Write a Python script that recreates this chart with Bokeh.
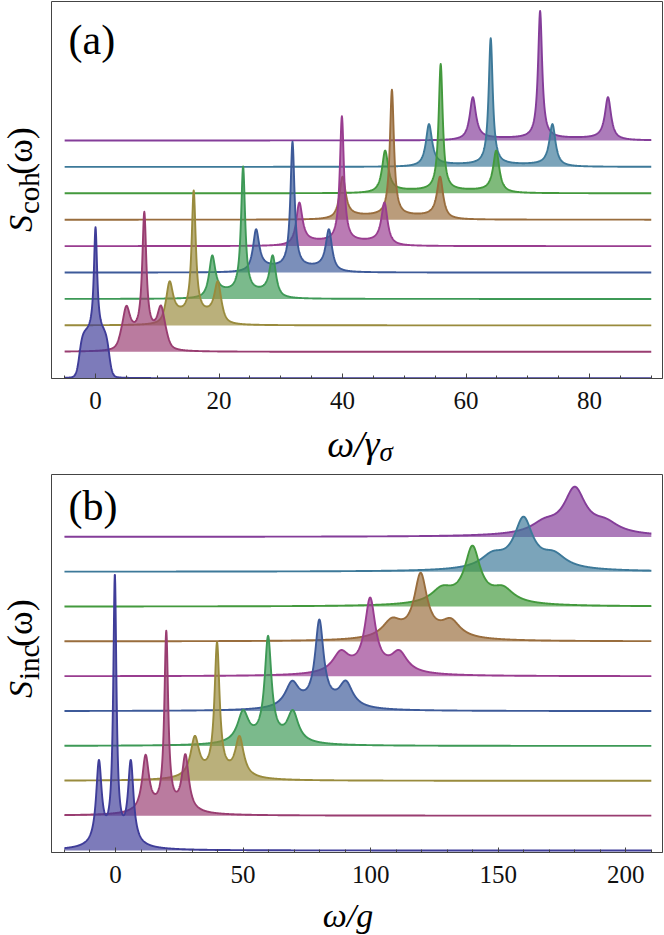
import numpy as np
from bokeh.plotting import figure
from bokeh.models import Label, FixedTicker, Range1d, ColumnDataSource
from bokeh.layouts import column, row
from bokeh.embed import file_html
from bokeh.resources import INLINE

# ---------------- data ----------------
colors = ["#3F3D99", "#993D71", "#998B3D", "#3D9956", "#3D5A99",
          "#993D90", "#996D3D", "#43993D", "#3D7999", "#843D99"]

# panel (a): coherent spectrum, curves offset by 1 unit each
a_center = [0.0, 7.9, 15.9, 23.9, 31.9, 39.9, 48.0, 55.9, 64.0, 72.0]
a_side_left = [None, 5.0, 12.0, 18.9, 26.0, 33.0, 40.0, 46.9, 54.0, 61.1]
a_side_right = [None, 10.6, 19.8, 28.7, 37.8, 46.8, 55.8, 64.9, 74.0, 83.0]
a_center_height = [5.72, 5.30, 5.11, 5.02, 4.95, 4.92, 4.92, 4.90, 4.87, 4.90]
a_side_height = [0.0, 1.74, 1.67, 1.65, 1.64, 1.65, 1.63, 1.62, 1.62, 1.64]
a_dip_height = [1.97, 1.15, 0.72, 0.45, 0.34, 0.28, 0.23, 0.17, 0.14, 0.13]
a_center_hwhm = [0.32, 0.40, 0.40, 0.40, 0.40, 0.40, 0.40, 0.40, 0.40, 0.40]
a_side_hwhm = [0.6, 0.7, 0.65, 0.6, 0.6, 0.6, 0.6, 0.6, 0.6, 0.6]
a_ped_left = [-2.6, 4.0, 11.3, 18.4, 25.6, 32.7, 39.7, 46.6, 53.8, 60.9]
a_ped_right = [2.2, 11.6, 20.5, 29.2, 38.2, 47.1, 56.1, 65.2, 74.2, 83.2]
a_ped_edge = [0.25, 0.3, 0.3, 0.3, 0.3, 0.3, 0.3, 0.3, 0.3, 0.3]
a_xmin, a_xmax = -5.0, 90.0
a_ticks = [0, 20, 40, 60, 80]
a_minor = [-5, 5, 10, 15, 25, 30, 35, 45, 50, 55, 65, 70, 75, 85, 90]

# panel (b): incoherent spectrum
b_center = [-0.25, 19.9, 39.8, 59.8, 79.9, 99.8, 119.6, 139.9, 159.9, 180.0]
b_side_left = [-6.5, 11.8, 31.1, 50.0, 69.2, 88.3, 108.3, 127.9, 147.7, 168.0]
b_side_right = [6.0, 27.4, 48.6, 69.5, 90.3, 111.2, 131.4, 151.9, 171.9, 192.1]
b_center_height = [7.94, 5.31, 3.98, 3.16, 2.63, 2.26, 1.97, 1.75, 1.58, 1.44]
b_side_height = [2.60, 1.75, 1.29, 1.03, 0.87, 0.75, 0.68, 0.60, 0.59, 0.54]
b_center_hwhm = [0.75, 0.9, 1.2, 1.6, 2.0, 2.5, 3.0, 3.6, 4.3, 5.0]
b_side_hwhm = [1.3, 1.6, 2.0, 2.6, 3.2, 3.8, 4.4, 5.0, 5.5, 6.0]
b_bg_height = [0.28, 0.18, 0.15, 0.15, 0.15, 0.15, 0.15, 0.15, 0.14, 0.13]
b_bg_hwhm = [7, 9, 10, 11, 12, 13, 14, 15, 16, 17]
b_xmin, b_xmax = -20.0, 210.0
b_ticks = [0, 50, 100, 150, 200]
b_minor = [-20, -10, 10, 20, 30, 40, 60, 70, 80, 90, 110, 120, 130, 140,
           160, 170, 180, 190, 210]


# ---------------- line shapes ----------------
def lor(x, c, g):
    return g * g / ((x - c) ** 2 + g * g)


def pedestal(x, a, b, w):
    return 1.0 / (1.0 + np.exp(-(x - a) / w)) / (1.0 + np.exp((x - b) / w))


def solve(funcs, xs, hs):
    M = np.array([[f(x) for f in funcs] for x in xs], dtype=float)
    amp = np.linalg.solve(M, np.array(hs, dtype=float))
    return np.clip(amp, 0.0, None)


def curve_a(n, x):
    c, gc = a_center[n], a_center_hwhm[n]
    pa_, pb_, pw = a_ped_left[n], a_ped_right[n], a_ped_edge[n]
    fc = lambda t: lor(t, c, gc)
    fp = lambda t: pedestal(t, pa_, pb_, pw)
    if a_side_left[n] is None:
        amp = solve([fc, fp], [c, -1.2], [a_center_height[n], a_dip_height[n]])
        return amp[0] * fc(x) + amp[1] * fp(x)
    sl, sr, gs = a_side_left[n], a_side_right[n], a_side_hwhm[n]
    fs = lambda t: lor(t, sl, gs) + lor(t, sr, gs)
    amp = solve([fc, fs, fp], [c, sl, 0.5 * (sl + c)],
                [a_center_height[n], a_side_height[n], a_dip_height[n]])
    return amp[0] * fc(x) + amp[1] * fs(x) + amp[2] * fp(x)


def curve_b(n, x):
    c, gc = b_center[n], b_center_hwhm[n]
    sl, sr, gs = b_side_left[n], b_side_right[n], b_side_hwhm[n]
    fb = lambda t: b_bg_height[n] * lor(t, c, b_bg_hwhm[n])
    fc = lambda t: lor(t, c, gc)
    fs = lambda t: lor(t, sl, gs) + lor(t, sr, gs)
    amp = solve([fc, fs], [c, sl],
                [b_center_height[n] - fb(c), b_side_height[n] - fb(sl)])
    return amp[0] * fc(x) + amp[1] * fs(x) + fb(x)


# ---------------- layout geometry (page pixels) ----------------
FONT = "Liberation Serif"
MID = 0.3375            # middle of the text box above the baseline, in em
LW = 50                 # width of the y-label strip
PW = 613                # panel figure width
FW = PW - 2             # frame width (1px border each side)
FRAME_L = LW + 1        # page x of frame left

PA_H, PA_TOP, PA_FH = 422, 1, 377       # panel (a): page y 0..422
XA_H = 51                               # x label (a): page y 422..473
PB_H, PB_TOP, PB_FH = 423, 1, 378       # panel (b): page y 473..896
XB_H = 38                               # x label (b): page y 896..934
PA_Y0 = 0
XA_Y0 = PA_H
PB_Y0 = PA_H + XA_H
XB_Y0 = PB_Y0 + PB_H

a_xr = (-7.13, 91.82)
a_yr = (-0.011, 14.26)
b_xr = (-25.08, 214.38)
b_yr = (-0.057, 10.79)


def make_panel(h, top, fh, xr, yr, ticks, minor):
    p = figure(width=PW, height=h, x_range=Range1d(*xr), y_range=Range1d(*yr),
               output_backend="svg", toolbar_location=None,
               y_axis_location=None, min_border_left=1, min_border_right=1,
               min_border_top=top, min_border_bottom=h - top - fh)
    p.grid.visible = False
    p.outline_line_color = "#444444"
    p.outline_line_width = 1
    p.background_fill_color = "white"
    p.border_fill_color = "white"
    ax = p.xaxis[0]
    ax.ticker = FixedTicker(ticks=ticks, minor_ticks=minor)
    ax.axis_line_color = "#444444"
    ax.major_tick_line_color = "#444444"
    ax.minor_tick_line_color = "#444444"
    ax.major_tick_in = 5
    ax.major_tick_out = 0
    ax.minor_tick_in = 3
    ax.minor_tick_out = 0
    ax.major_label_text_font = FONT
    ax.major_label_text_font_size = "25px"
    ax.major_label_text_color = "#111111"
    ax.major_label_standoff = 13
    return p


def make_blank(w, h):
    p = figure(width=w, height=h, x_range=Range1d(0, w), y_range=Range1d(0, h),
               output_backend="svg", toolbar_location=None,
               x_axis_location=None, y_axis_location=None, min_border=0,
               outline_line_color=None)
    p.grid.visible = False
    p.background_fill_color = "white"
    p.border_fill_color = "white"
    return p


def text(p, x, y, s, size, style="normal", angle=0.0, align="left"):
    p.add_layout(Label(x=x, y=y, text=s, text_font=FONT,
                       text_font_size="%dpx" % size,
                       text_font_style=style, text_color="#000000",
                       angle=angle, angle_units="rad", text_align=align,
                       text_baseline="middle"))


def htext(p, fig_bottom, px, base_py, s, size, style="normal", align="left"):
    # horizontal text whose baseline sits at page y = base_py
    text(p, px, fig_bottom - (base_py - MID * size), s, size, style, 0.0, align)


def vtext(p, fig_bottom, base_px, start_py, s, size, style="normal"):
    # text rotated 90 degrees, baseline at page x = base_px, starting at page y
    text(p, base_px - MID * size, fig_bottom - start_py, s, size, style,
         np.pi / 2, "left")


def panel_xy(xr, yr, fy0, fh, px, py):
    dx = xr[0] + (px - FRAME_L) / FW * (xr[1] - xr[0])
    dy = yr[1] - (py - fy0) / fh * (yr[1] - yr[0])
    return dx, dy


def draw(p, xs, curves):
    for n in range(9, -1, -1):
        base = np.full_like(xs, float(n))
        y = base + curves[n]
        src = ColumnDataSource(dict(x=xs, y1=base, y2=y))
        p.varea(x="x", y1="y1", y2="y2", source=src, fill_color=colors[n],
                fill_alpha=0.68)
        p.line(x="x", y="y2", source=src, line_color=colors[n],
               line_width=1.9, line_join="round")


# ---------------- panel (a) ----------------
pa = make_panel(PA_H, PA_TOP, PA_FH, a_xr, a_yr, a_ticks, a_minor)
xa = np.linspace(a_xmin, a_xmax, 1901)
draw(pa, xa, [curve_a(n, xa) for n in range(10)])
lx, ly = panel_xy(a_xr, a_yr, PA_Y0 + PA_TOP, PA_FH, 68.0, 53.5 - MID * 42)
text(pa, lx, ly, "(a)", 42)

ya = make_blank(LW, PA_H)
vtext(ya, PA_Y0 + PA_H, 31.0, 258.0, "S", 34, "italic")
vtext(ya, PA_Y0 + PA_H, 38.5, 238.0, "coh", 29)
vtext(ya, PA_Y0 + PA_H, 32.0, 194.0, "(ω)", 36)

xla = make_blank(LW + PW, XA_H)
htext(xla, XA_Y0 + XA_H, 379.0, 456.0, "ω/γ", 38, "italic", "right")
htext(xla, XA_Y0 + XA_H, 379.0, 461.0, "σ", 27, "italic", "left")

# ---------------- panel (b) ----------------
pb = make_panel(PB_H, PB_TOP, PB_FH, b_xr, b_yr, b_ticks, b_minor)
xb = np.linspace(b_xmin, b_xmax, 2301)
draw(pb, xb, [curve_b(n, xb) for n in range(10)])
lx, ly = panel_xy(b_xr, b_yr, PB_Y0 + PB_TOP, PB_FH, 68.0, 520.0 - MID * 42)
text(pb, lx, ly, "(b)", 42)

yb = make_blank(LW, PB_H)
vtext(yb, PB_Y0 + PB_H, 31.0, 723.0, "S", 34, "italic")
vtext(yb, PB_Y0 + PB_H, 38.5, 703.0, "inc", 29)
vtext(yb, PB_Y0 + PB_H, 32.0, 666.0, "(ω)", 36)

xlb = make_blank(LW + PW, XB_H)
htext(xlb, XB_Y0 + XB_H, 347.5, 926.5, "ω/g", 34, "italic", "center")

layout = column(row(ya, pa), xla, row(yb, pb), xlb)
open("out.html", "w").write(file_html(layout, INLINE))
